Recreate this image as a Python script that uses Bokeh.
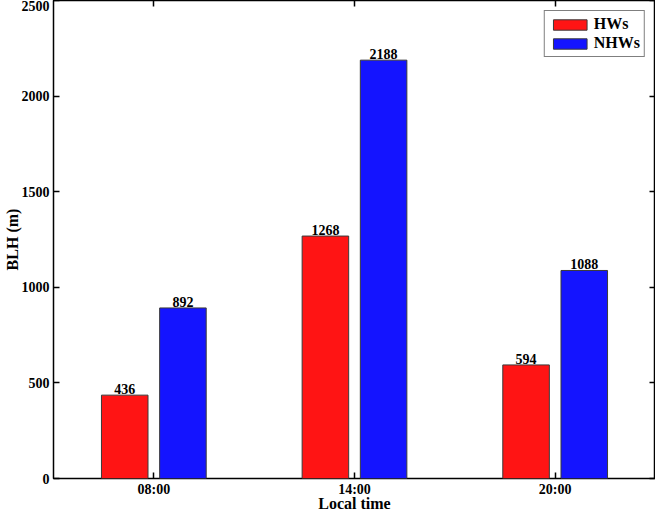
from bokeh.plotting import figure
from bokeh.models import (ColumnDataSource, FactorRange, Range1d, LinearAxis, CategoricalAxis,
                          FixedTicker, Legend, LegendItem)
from bokeh.transform import dodge
from bokeh.core.properties import value
from bokeh.embed import file_html
from bokeh.resources import INLINE

times = ["08:00", "14:00", "20:00"]
hws = [436, 1268, 594]
nhws = [892, 2188, 1088]
y_ticks = [0, 500, 1000, 1500, 2000, 2500]
x_label = "Local time"
y_label = "BLH (m)"

FONT = "Liberation Serif"

src = ColumnDataSource(dict(
    time=times, hws=hws, nhws=nhws,
    hws_txt=[str(v) for v in hws], nhws_txt=[str(v) for v in nhws],
))

p = figure(width=655, height=514, x_range=FactorRange(factors=times),
           y_range=Range1d(0, 2500), output_backend="svg", toolbar_location=None,
           min_border_left=0, min_border_right=0, min_border_top=0, min_border_bottom=0)
p.outline_line_color = "black"
p.outline_line_width = 1.5
p.xgrid.visible = False
p.ygrid.visible = False
p.background_fill_color = "white"
p.border_fill_color = "white"

r1 = p.vbar(x=dodge("time", -0.145, range=p.x_range), top="hws", width=0.232, source=src,
            fill_color="#ff1414", line_color="#3a3a3a", line_width=1)
r2 = p.vbar(x=dodge("time", 0.145, range=p.x_range), top="nhws", width=0.232, source=src,
            fill_color="#1414ff", line_color="#3a3a3a", line_width=1)

p.text(x=dodge("time", -0.145, range=p.x_range), y="hws", text="hws_txt", source=src,
       text_font=value(FONT), text_font_style="bold", text_font_size="14px",
       text_align="center", text_baseline="bottom", y_offset=-1, text_color="black")
p.text(x=dodge("time", 0.145, range=p.x_range), y="nhws", text="nhws_txt", source=src,
       text_font=value(FONT), text_font_style="bold", text_font_size="14px",
       text_align="center", text_baseline="bottom", y_offset=-1, text_color="black")

def style_axis(ax):
    ax.axis_line_color = None
    ax.major_tick_in = 6
    ax.major_tick_out = 0
    ax.major_tick_line_color = "black"
    ax.major_tick_line_width = 1.5
    ax.minor_tick_line_color = None
    ax.major_label_text_font = FONT
    ax.major_label_text_font_style = "bold"
    ax.major_label_text_font_size = "14px"
    ax.major_label_text_color = "black"
    ax.axis_label_text_font = FONT
    ax.axis_label_text_font_style = "bold"
    ax.axis_label_text_font_size = "16px"
    ax.axis_label_text_color = "black"

xa = p.xaxis[0]
style_axis(xa)
xa.axis_label = x_label
xa.major_label_standoff = 3
xa.axis_label_standoff = -5

ya = p.yaxis[0]
style_axis(ya)
ya.ticker = FixedTicker(ticks=y_ticks)
ya.axis_label = y_label
ya.major_label_standoff = 4
ya.axis_label_standoff = -2

top_ax = CategoricalAxis()
style_axis(top_ax)
top_ax.major_label_text_color = None
top_ax.major_label_standoff = -16
p.add_layout(top_ax, "above")

right_ax = LinearAxis(ticker=FixedTicker(ticks=y_ticks))
style_axis(right_ax)
right_ax.major_label_text_color = None
right_ax.major_label_overrides = {t: "" for t in y_ticks}
right_ax.major_label_standoff = -14
p.add_layout(right_ax, "right")

legend = Legend(items=[LegendItem(label="HWs", renderers=[r1]),
                       LegendItem(label="NHWs", renderers=[r2])],
                location="top_right")
legend.label_text_font = FONT
legend.label_text_font_style = "bold"
legend.label_text_font_size = "16px"
legend.label_text_color = "black"
legend.glyph_width = 42
legend.glyph_height = 13
legend.label_standoff = 3
legend.spacing = 1
legend.padding = 4
legend.margin = 10
legend.border_line_color = "black"
legend.border_line_width = 1.5
legend.label_height = 13
p.add_layout(legend, "center")

open("out.html", "w").write(file_html(p, INLINE))
